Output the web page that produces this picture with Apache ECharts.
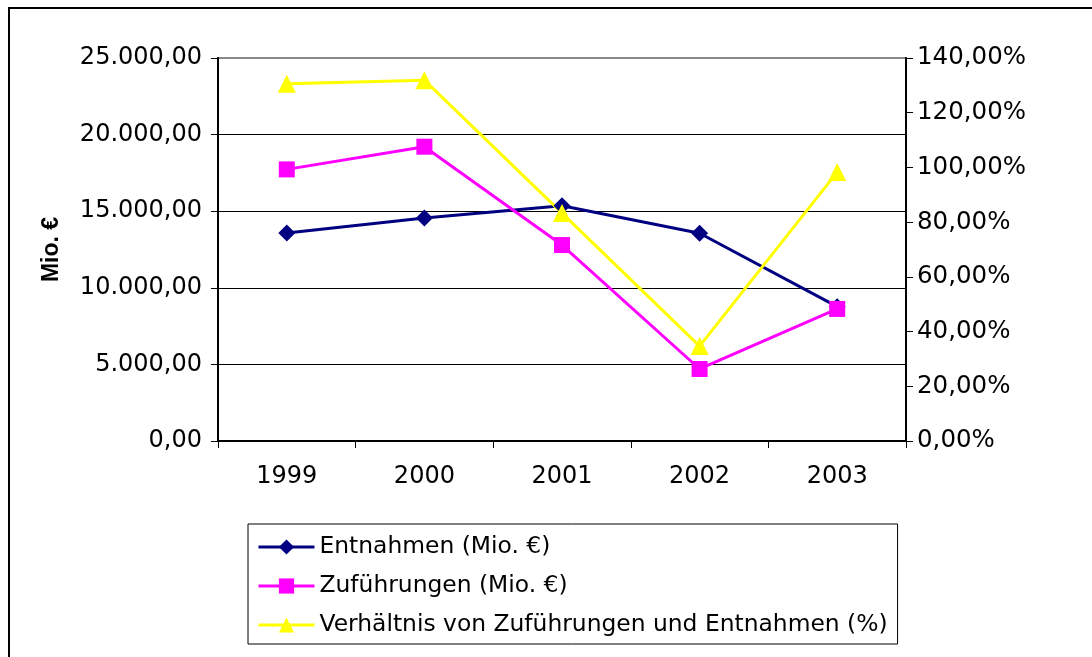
<!DOCTYPE html>
<html style="height: 100%">
<head>
    <meta charset="utf-8">
    <script type="text/javascript" src="https://cdn.jsdelivr.net/npm/echarts@6/dist/echarts.min.js"></script>
</head>
<body style="height: 100%; margin: 0; background: #fff">
<div id="container" style="height: 657px; width: 1092px"></div>
<script type="text/javascript">
    // Daten
    var years = ['1999', '2000', '2001', '2002', '2003'];
    var entnahmen = [13580, 14560, 15350, 13560, 8770];
    var zufuehrungen = [17730, 19210, 12790, 4700, 8620];
    var verhaeltnis = [130.6, 131.9, 83.3, 34.7, 98.3];

    var font = 'DejaVu Sans';

    function deNum(v) {
        var parts = v.toFixed(2).split('.');
        var intPart = parts[0].replace(/\B(?=(\d{3})+(?!\d))/g, '.');
        return intPart + ',' + parts[1];
    }

    var dom = document.getElementById('container');
    var myChart = echarts.init(dom);
    var option = {
        backgroundColor: '#fff',
        animation: false,
        textStyle: { fontFamily: font, color: '#000' },
        graphic: [{
            type: 'polyline',
            shape: { points: [[9, 657], [9, 8], [1092, 8]] },
            style: { stroke: '#000', lineWidth: 2, fill: null }
        }],
        grid: { left: 218, right: 186, top: 58, bottom: 216, show: true, borderColor: '#888', borderWidth: 2 },
        legend: {
            orient: 'vertical',
            left: 248,
            top: 524,
            padding: [8, 10, 4, 9],
            itemGap: 9,
            itemWidth: 56,
            itemHeight: 19,
            borderColor: '#000',
            borderWidth: 1,
            lineStyle: { width: 3 },
            textStyle: { fontFamily: font, fontSize: 23.4, lineHeight: 30, color: '#000' },
            data: ['Entnahmen (Mio. €)', 'Zuführungen (Mio. €)', 'Verhältnis von Zuführungen und Entnahmen (%)']
        },
        xAxis: {
            type: 'category',
            data: years,
            boundaryGap: true,
            axisLine: { lineStyle: { color: '#000', width: 2 } },
            axisTick: { show: true, interval: 0, length: 7, lineStyle: { color: '#000' } },
            axisLabel: { margin: 24, fontSize: 24, color: '#000', fontFamily: font }
        },
        yAxis: [{
            type: 'value',
            min: 0,
            max: 25000,
            interval: 5000,
            name: 'Mio. €',
            nameLocation: 'middle',
            nameGap: 155,
            nameRotate: 90,
            nameTextStyle: { fontFamily: 'Liberation Sans', fontWeight: 'bold', fontSize: 23, color: '#000' },
            axisLine: { show: true, lineStyle: { color: '#000', width: 2 } },
            axisTick: { show: true, length: 7, lineStyle: { color: '#000' } },
            axisLabel: { margin: 16, fontSize: 24, color: '#000', fontFamily: font, formatter: deNum },
            splitLine: { show: true, lineStyle: { color: ['#000', '#000', '#000', '#000', '#000', '#888'], width: 1 } }
        }, {
            type: 'value',
            min: 0,
            max: 140,
            interval: 20,
            position: 'right',
            axisLine: { show: true, lineStyle: { color: '#000', width: 2 } },
            axisTick: { show: true, length: 7, lineStyle: { color: '#000' } },
            axisLabel: {
                margin: 11, fontSize: 24.5, color: '#000', fontFamily: font,
                formatter: function (v) { return v.toFixed(2).replace('.', ',') + '%'; }
            },
            splitLine: { show: false }
        }],
        series: [{
            name: 'Entnahmen (Mio. €)',
            type: 'line',
            data: entnahmen,
            symbol: 'diamond',
            symbolSize: 17,
            itemStyle: { color: '#000080' },
            lineStyle: { color: '#000080', width: 3 }
        }, {
            name: 'Zuführungen (Mio. €)',
            type: 'line',
            data: zufuehrungen,
            symbol: 'rect',
            symbolSize: 16,
            itemStyle: { color: '#ff00ff' },
            lineStyle: { color: '#ff00ff', width: 3 }
        }, {
            name: 'Verhältnis von Zuführungen und Entnahmen (%)',
            type: 'line',
            yAxisIndex: 1,
            data: verhaeltnis,
            symbol: 'triangle',
            symbolSize: 18,
            itemStyle: { color: '#ffff00' },
            lineStyle: { color: '#ffff00', width: 3 }
        }]
    };
    myChart.setOption(option);
</script>
</body>
</html>
